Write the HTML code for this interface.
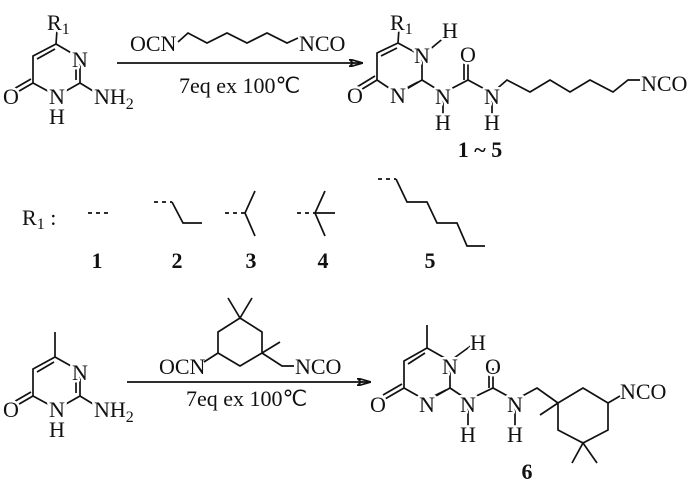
<!DOCTYPE html>
<html><head><meta charset="utf-8"><style>
html,body{margin:0;padding:0;background:#fff}
svg{display:block}
text{font-family:"Liberation Serif",serif;font-size:22px;fill:#111}
.l{stroke:#fff;stroke-width:5;paint-order:stroke;stroke-linejoin:round}
.b{font-weight:bold}
line,polyline,path{stroke:#111;stroke-width:1.7;fill:none}
.d{stroke-dasharray:4,4}
</style></head><body>
<svg width="700" height="487" viewBox="0 0 700 487" xmlns="http://www.w3.org/2000/svg">
<defs><marker id="ah" markerWidth="14" markerHeight="8" refX="13" refY="4" orient="auto" markerUnits="userSpaceOnUse"><path d="M0,0 L14,4 L0,8 L4,4 Z" fill="#111" stroke="none"/></marker></defs>

<!-- Top reactant -->
<polyline points="57,30 56,44 80,58 80,83 57,96 33,83 33,56 56,44"/>
<line x1="37" y1="59" x2="55" y2="49"/>
<line x1="76" y1="63" x2="76" y2="80"/>
<line x1="33" y1="83" x2="14" y2="94"/>
<line x1="31" y1="79" x2="12" y2="90"/>
<line x1="80" y1="83" x2="98" y2="94"/>
<text class="l" x="47" y="30">R<tspan font-size="16" dy="4">1</tspan></text>
<text class="l" x="80" y="67" text-anchor="middle">N</text>
<text class="l" x="57" y="104" text-anchor="middle">N</text>
<text x="57" y="124" text-anchor="middle">H</text>
<text class="l" x="11" y="104" text-anchor="middle">O</text>
<text class="l" x="94" y="104">NH<tspan font-size="16" dy="5">2</tspan></text>

<!-- Arrow 1 -->
<line x1="117" y1="63" x2="362" y2="63" marker-end="url(#ah)"/>
<text x="130" y="51">OCN</text>
<polyline points="178,42 188,33 207,43 227,33 247,43 267,33 287,43 298,38"/>
<text x="299" y="51">NCO</text>
<text x="179" y="93" font-size="21">7eq ex 100℃</text>

<!-- Product 1-5 -->
<polyline points="399,28 398,43 422,56 422,80 398,94 377,80 377,53 398,43"/>
<line x1="381" y1="56" x2="397" y2="48"/>
<line x1="418" y1="82" x2="401" y2="91"/>
<line x1="377" y1="80" x2="359" y2="91"/>
<line x1="375" y1="76" x2="357" y2="87"/>
<line x1="422" y1="56" x2="446" y2="36"/>
<polyline points="422,80 443,93 468,80 492,93 507,80 530,92 550,80 570,92 590,80 613,92 628,80 640,80"/>
<line x1="468" y1="80" x2="468" y2="60"/>
<line x1="464" y1="80" x2="464" y2="60"/>
<line x1="443" y1="93" x2="443" y2="118"/>
<line x1="492" y1="93" x2="492" y2="118"/>
<text class="l" x="390" y="30">R<tspan font-size="16" dy="4">1</tspan></text>
<text class="l" x="450" y="38" text-anchor="middle">H</text>
<text class="l" x="422" y="63" text-anchor="middle">N</text>
<text class="l" x="398" y="103" text-anchor="middle">N</text>
<text class="l" x="355" y="103" text-anchor="middle">O</text>
<text class="l" x="468" y="62" text-anchor="middle">O</text>
<text class="l" x="443" y="104" text-anchor="middle">N</text>
<text class="l" x="492" y="104" text-anchor="middle">N</text>
<text class="l" x="443" y="130" text-anchor="middle">H</text>
<text class="l" x="492" y="130" text-anchor="middle">H</text>
<text class="l" x="641" y="91">NCO</text>
<text class="b" x="480" y="157" text-anchor="middle">1 ~ 5</text>

<!-- R1 row -->
<text x="22" y="225">R<tspan font-size="16" dy="4">1</tspan><tspan dy="-4"> :</tspan></text>
<line class="d" x1="88" y1="213" x2="108" y2="213"/>
<line class="d" x1="154" y1="202" x2="172" y2="202"/>
<polyline points="172,202 183,223 202,223"/>
<line class="d" x1="225" y1="213" x2="245" y2="213"/>
<polyline points="255,191 245,213 255,236"/>
<line class="d" x1="297" y1="213" x2="315" y2="213"/>
<polyline points="325,191 315,213 325,236"/>
<line x1="315" y1="213" x2="335" y2="213"/>
<line class="d" x1="378" y1="179" x2="396" y2="179"/>
<polyline points="396,179 407,202 427,202 437,223 457,223 467,246 485,246"/>
<text class="b" x="97" y="268" text-anchor="middle">1</text>
<text class="b" x="177" y="268" text-anchor="middle">2</text>
<text class="b" x="251" y="268" text-anchor="middle">3</text>
<text class="b" x="323" y="268" text-anchor="middle">4</text>
<text class="b" x="430" y="268" text-anchor="middle">5</text>

<!-- Bottom reactant -->
<polyline points="55,332 55,357 80,371 80,396 57,409 33,396 33,369 55,357"/>
<line x1="37" y1="372" x2="54" y2="362"/>
<line x1="76" y1="376" x2="76" y2="393"/>
<line x1="33" y1="396" x2="14" y2="407"/>
<line x1="31" y1="392" x2="12" y2="403"/>
<line x1="80" y1="396" x2="98" y2="407"/>
<text class="l" x="80" y="380" text-anchor="middle">N</text>
<text class="l" x="57" y="417" text-anchor="middle">N</text>
<text x="57" y="437" text-anchor="middle">H</text>
<text class="l" x="11" y="417" text-anchor="middle">O</text>
<text class="l" x="94" y="417">NH<tspan font-size="16" dy="5">2</tspan></text>

<!-- Arrow 2 -->
<line x1="127" y1="382" x2="370" y2="382" marker-end="url(#ah)"/>
<polyline points="204,362 218,353 218,332 240,318 262,332 262,353 240,366 218,353"/>
<polyline points="228,298 240,318 252,298"/>
<line x1="262" y1="353" x2="280" y2="342"/>
<polyline points="262,353 282,366 294,366"/>
<text x="159" y="374">OCN</text>
<text x="295" y="374">NCO</text>
<text x="186" y="406" font-size="21">7eq ex 100℃</text>

<!-- Product 6 -->
<polyline points="427,325 427,348 450,361 450,388 427,401 404,388 404,361 427,348"/>
<line x1="408" y1="364" x2="425" y2="353"/>
<line x1="446" y1="390" x2="430" y2="398"/>
<line x1="404" y1="388" x2="385" y2="399"/>
<line x1="402" y1="384" x2="383" y2="395"/>
<line x1="450" y1="361" x2="472" y2="345"/>
<polyline points="450,388 468,400 493,388 515,400 537,388 558,403"/>
<line x1="493" y1="388" x2="493" y2="368"/>
<line x1="489" y1="388" x2="489" y2="368"/>
<line x1="468" y1="400" x2="468" y2="428"/>
<line x1="515" y1="400" x2="515" y2="428"/>
<polyline points="558,403 583,388 608,403 608,430 583,443 558,430 558,403"/>
<line x1="558" y1="403" x2="540" y2="415"/>
<polyline points="572,463 583,443 597,463"/>
<line x1="608" y1="403" x2="620" y2="396"/>
<text class="l" x="478" y="350" text-anchor="middle">H</text>
<text class="l" x="450" y="374" text-anchor="middle">N</text>
<text class="l" x="427" y="412" text-anchor="middle">N</text>
<text class="l" x="378" y="412" text-anchor="middle">O</text>
<text class="l" x="493" y="374" text-anchor="middle">O</text>
<text class="l" x="468" y="412" text-anchor="middle">N</text>
<text class="l" x="515" y="412" text-anchor="middle">N</text>
<text class="l" x="468" y="442" text-anchor="middle">H</text>
<text class="l" x="515" y="442" text-anchor="middle">H</text>
<text x="620" y="399">NCO</text>
<text class="b" x="527" y="479" text-anchor="middle">6</text>
</svg>
</body></html>
